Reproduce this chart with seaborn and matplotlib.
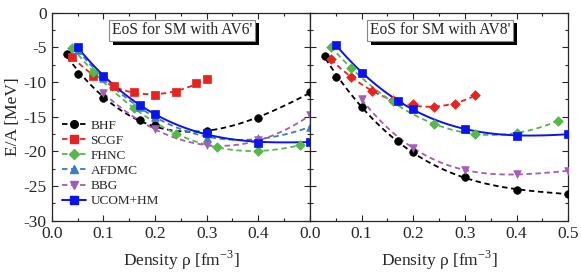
import numpy as np
import pandas as pd
import matplotlib.pyplot as plt
import matplotlib.patheffects as pe
from matplotlib.lines import Line2D
from matplotlib.ticker import MultipleLocator
import seaborn as sns

# AV6' panel
bhf6_x = [0.03, 0.05, 0.1, 0.17, 0.2, 0.3, 0.4, 0.5]
bhf6_y = [-5.9, -8.8, -12.3, -15.5, -16.2, -17.0, -15.2, -11.5]
scgf6_x = [0.04, 0.08, 0.12, 0.16, 0.2, 0.24, 0.28, 0.3]
scgf6_y = [-6.35, -9.1, -10.6, -11.4, -11.8, -11.4, -10.2, -9.6]
fhnc6_x = [0.04, 0.08, 0.16, 0.24, 0.32, 0.4, 0.48]
fhnc6_y = [-5.05, -8.5, -13.7, -17.5, -19.4, -19.9, -19.1]
afdmc6_x = [0.05, 0.1, 0.17, 0.2, 0.3, 0.4, 0.5]
afdmc6_y = [-5.4, -9.4, -13.65, -15.0, -18.0, -18.1, -16.5]
bbg6_x = [0.1, 0.2, 0.3, 0.4, 0.5]
bbg6_y = [-11.6, -16.8, -19.1, -18.4, -14.8]
ucom6_x = [0.05, 0.1, 0.17, 0.2, 0.3, 0.4, 0.5]
ucom6_y = [-4.9, -9.2, -13.3, -14.6, -17.4, -18.75, -18.6]

# AV8' panel
bhf8_x = [0.03, 0.05, 0.1, 0.17, 0.2, 0.3, 0.4, 0.5]
bhf8_y = [-6.2, -9.3, -13.65, -18.5, -20.15, -23.7, -25.6, -26.1]
scgf8_x = [0.04, 0.08, 0.12, 0.16, 0.2, 0.24, 0.28, 0.32]
scgf8_y = [-6.7, -9.3, -11.3, -12.6, -13.2, -13.65, -13.1, -11.9]
fhnc8_x = [0.04, 0.08, 0.16, 0.24, 0.32, 0.4, 0.48]
fhnc8_y = [-4.9, -8.0, -12.8, -16.1, -17.5, -17.3, -15.6]
bbg8_x = [0.1, 0.2, 0.3, 0.4, 0.5]
bbg8_y = [-12.5, -19.5, -22.7, -23.3, -22.8]
ucom8_x = [0.05, 0.1, 0.17, 0.2, 0.3, 0.4, 0.5]
ucom8_y = [-4.6, -8.65, -12.7, -13.95, -16.7, -17.75, -17.5]

estilos = {
    'BHF': ('black', 'o', '--'),
    'SCGF': ('#e8221f', 's', '--'),
    'FHNC': ('#55b848', 'D', '--'),
    'AFDMC': ('#3a7dc2', '^', '--'),
    'BBG': ('#a35cb8', 'v', '--'),
    'UCOM+HM': ('#0a14f0', 's', '-'),
}

panel6 = [('BHF', bhf6_x, bhf6_y), ('SCGF', scgf6_x, scgf6_y), ('FHNC', fhnc6_x, fhnc6_y),
          ('AFDMC', afdmc6_x, afdmc6_y), ('BBG', bbg6_x, bbg6_y), ('UCOM+HM', ucom6_x, ucom6_y)]
panel8 = [('BHF', bhf8_x, bhf8_y), ('SCGF', scgf8_x, scgf8_y), ('FHNC', fhnc8_x, fhnc8_y),
          ('BBG', bbg8_x, bbg8_y), ('UCOM+HM', ucom8_x, ucom8_y)]

sns.set_style('ticks')
plt.rcParams['font.family'] = ['Liberation Serif', 'DejaVu Serif']
plt.rcParams['mathtext.fontset'] = 'custom'
plt.rcParams['mathtext.rm'] = 'Liberation Serif'

fig, axes = plt.subplots(1, 2, figsize=(5.81, 2.75), dpi=100, sharey=True)
fig.subplots_adjust(left=0.089, right=0.978, top=0.954, bottom=0.197, wspace=0)


def estilo_linea(color, ls):
    if ls == '--':
        return {'color': color, 'ls': '--', 'lw': 1.3, 'dashes': (3, 2)}
    return {'color': color, 'ls': '-', 'lw': 1.4}


def dibujar(ax, series, rombo_scgf=False):
    for nombre, xs, ys in series:
        color, marker, ls = estilos[nombre]
        if rombo_scgf and nombre == 'SCGF':
            marker = 'D'
        df = pd.DataFrame({'x': xs, 'y': ys})
        # curva suave (ajuste cubico) como en la figura original
        sns.regplot(data=df, x='x', y='y', order=3, ci=None, scatter=False, ax=ax,
                    line_kws=estilo_linea(color, ls))
        sns.scatterplot(data=df, x='x', y='y', marker=marker, color=color,
                        s=30 if marker != 'D' else 24, edgecolor=color, linewidth=0.5,
                        ax=ax, zorder=5)


dibujar(axes[0], panel6)
dibujar(axes[1], panel8, rombo_scgf=True)

for ax in axes:
    ax.set_xlim(0, 0.5)
    ax.set_ylim(-30, 0)
    ax.xaxis.set_major_locator(MultipleLocator(0.1))
    ax.xaxis.set_minor_locator(MultipleLocator(0.05))
    ax.yaxis.set_major_locator(MultipleLocator(5))
    ax.yaxis.set_minor_locator(MultipleLocator(2.5))
    ax.tick_params(which='both', direction='in', top=True, right=True, labelsize=12.5, width=0.8)
    ax.tick_params(which='major', length=4)
    ax.tick_params(which='minor', length=2)
    for sp in ax.spines.values():
        sp.set_linewidth(0.9)
    ax.set_xlabel('Density ρ [fm$^{-3}$]', fontsize=12.5, labelpad=5)
    ax.set_ylabel('')

axes[0].set_xticks([0.0, 0.1, 0.2, 0.3, 0.4])
axes[0].set_xticklabels(['0.0', '0.1', '0.2', '0.3', '0.4'])
axes[1].set_xticks([0.0, 0.1, 0.2, 0.3, 0.4, 0.5])
axes[1].set_xticklabels(['0.0', '0.1', '0.2', '0.3', '0.4', '0.5'])
axes[0].set_yticks([0, -5, -10, -15, -20, -25, -30])
axes[0].set_yticklabels(['0', '-5', '-10', '-15', '-20', '-25', '-30'])
axes[0].set_ylabel('E/A [MeV]', fontsize=12.5, labelpad=2)
axes[1].tick_params(labelleft=False)

# cajas de titulo con sombra negra
for ax, texto in zip(axes, ["EoS for SM with AV6'", "EoS for SM with AV8'"]):
    t = ax.text(0.505, 0.915, texto, transform=ax.transAxes, ha='center', va='center',
                fontsize=11.2, bbox=dict(boxstyle='square,pad=0.18', fc='white', ec='#888888', lw=0.8),
                zorder=10)
    t.get_bbox_patch().set_path_effects([
        pe.SimplePatchShadow(offset=(2.5, -2.5), shadow_rgbFace='black', alpha=1.0, rho=1.0),
        pe.Normal()])

handles = []
for nombre in estilos:
    color, marker, ls = estilos[nombre]
    kw = estilo_linea(color, ls)
    handles.append(Line2D([], [], marker=marker, markersize=5.5, **kw))
axes[0].legend(handles=handles, labels=list(estilos), loc='lower left', bbox_to_anchor=(0.04, 0.065),
               frameon=False, fontsize=9.5, handlelength=1.8, handletextpad=0.35, labelspacing=0.22,
               borderaxespad=0, borderpad=0)

fig.savefig('out.png', dpi=100)
